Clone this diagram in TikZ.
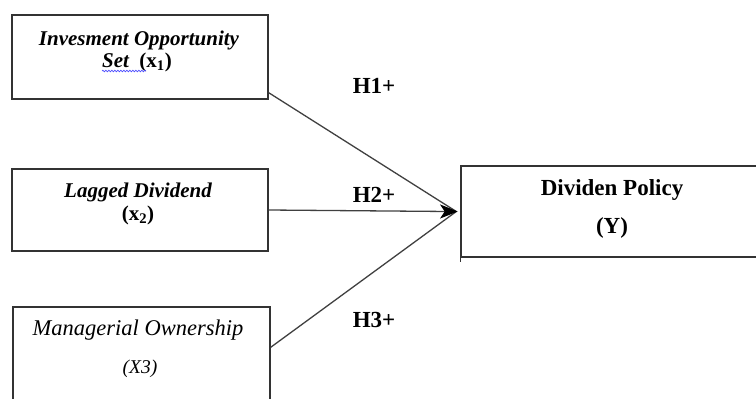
\documentclass[tikz,border=0pt]{standalone}
\usepackage{fontspec}
\setmainfont{Liberation Serif}
\usetikzlibrary{arrows.meta,decorations.pathmorphing}
\begin{document}
\begin{tikzpicture}[x=1pt,y=1pt,
  box/.style={draw=black!80,line width=1.4pt,inner sep=0pt,fill=none},
  lbl/.style={anchor=base,inner sep=0pt,font=\fontsize{21}{25}\selectfont\bfseries\itshape},
  lblb/.style={anchor=base,inner sep=0pt,font=\fontsize{21}{25}\selectfont\bfseries},
  lbli/.style={anchor=base,inner sep=0pt,font=\fontsize{22.5}{26}\selectfont\itshape},
  hyp/.style={anchor=base,inner sep=0pt,font=\fontsize{23}{27}\selectfont\bfseries},
  conn/.style={color=black!75,line width=1.3pt},
  headfill/.style={fill=black,draw=black,line width=1pt,line join=miter}]
\useasboundingbox (0,0) rectangle (756,-399);
% boxes
\node[box,minimum width=256pt,minimum height=84pt] (b1) at (140,-57) {};
\node[box,minimum width=256pt,minimum height=82pt] (b2) at (140,-210) {};
\node[box,minimum width=257pt,minimum height=120pt] (b3) at (141.5,-367) {};
\node[box,minimum width=340pt,minimum height=91pt] (Y) at (631,-211.5) {};
\draw[draw=black!80,line width=1.4pt] (Y.south west) -- ++(0,-4);
% texts
\node[lbl] (t1a) at (139,-45) {Invesment Opportunity};
\node[lbl] (t1b) at (137,-67) {Set\ \ {\upshape(x\textsubscript{1})}};
\draw[blue!70,line width=0.7pt,decorate,decoration={snake,amplitude=0.8pt,segment length=3pt}] (102,-71) -- (146,-71);
\node[lbl] (t2a) at (138,-197) {Lagged Dividend};
\node[lblb] (t2b) at (138,-220) {(x\textsubscript{2})};
\node[lbli] (t3a) at (138,-335) {Managerial Ownership};
\node[lbli,font=\fontsize{19.5}{23}\selectfont\itshape] (t3b) at (140,-373) {(X3)};
\node[lblb,font=\fontsize{23}{27}\selectfont\bfseries] (ya) at (612,-195) {Dividen Policy};
\node[lblb,font=\fontsize{23}{27}\selectfont\bfseries] (yb) at (612,-233) {(Y)};
% hypotheses
\node[hyp] (h1) at (374,-93) {H1+};
\node[hyp] (h2) at (374,-202) {H2+};
\node[hyp] (h3) at (374,-327) {H3+};
% connectors
\coordinate (tip) at ([xshift=-4pt]Y.west);
\draw[conn] ([yshift=7pt]b1.south east) -- (tip);
\draw[conn] ([yshift=-41pt]b3.north east) -- (tip);
\draw[conn] (b2.east) -- ([xshift=-8pt]tip);
\filldraw[headfill] (tip) -- ([shift={(-15pt,6pt)}]tip) -- ([shift={(-11pt,0pt)}]tip) -- ([shift={(-15pt,-6pt)}]tip) -- cycle;
\end{tikzpicture}
\end{document}
